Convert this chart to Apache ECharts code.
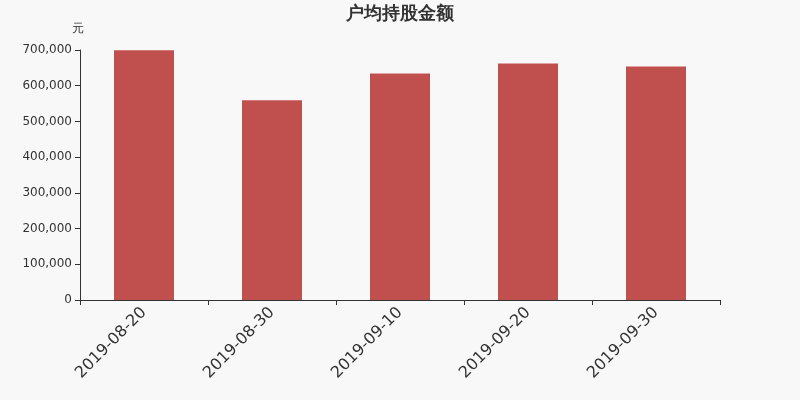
<!DOCTYPE html>
<html><head><meta charset="utf-8">
<script src="https://cdn.jsdelivr.net/npm/echarts@6/dist/echarts.min.js"></script>
<style>html,body{margin:0;padding:0;background:#f8f8f8}#c{width:800px;height:400px}</style>
</head><body><div id="c"></div>
<script>
var categories = ['2019-08-20','2019-08-30','2019-09-10','2019-09-20','2019-09-30'];
var values = [699000, 559000, 634000, 662000, 654000];
var chart = echarts.init(document.getElementById('c'));
chart.setOption({
  backgroundColor: '#f8f8f8',
  animation: false,
  textStyle: {fontFamily: 'DejaVu Sans'},
  title: {text: '户均持股金额', left: 'center', top: 0, textStyle: {fontSize: 18, fontWeight: 'bold', color: '#333', fontFamily: 'DejaVu Sans'}},
  grid: {left: 80, right: 80, top: 50, bottom: 100},
  xAxis: {
    type: 'category', data: categories,
    axisLine: {lineStyle: {color: '#333'}},
    axisTick: {show: true, lineStyle: {color: '#333'}},
    axisLabel: {rotate: 45, fontSize: 16, color: '#333', margin: 10, fontFamily: 'DejaVu Sans'}
  },
  yAxis: {
    type: 'value', name: '元', min: 0, max: 700000, interval: 100000,
    nameTextStyle: {color: '#333', fontSize: 12, padding: [0, 5, 0, 0], fontFamily: 'DejaVu Sans'},
    axisLine: {show: true, lineStyle: {color: '#333'}},
    axisTick: {show: true, lineStyle: {color: '#333'}},
    splitLine: {show: false},
    axisLabel: {color: '#333', fontSize: 12, fontFamily: 'DejaVu Sans', formatter: function(v){return v.toLocaleString('en-US');}}
  },
  series: [{type: 'bar', data: values, barWidth: 60, itemStyle: {color: '#c0504e'}}]
});
</script></body></html>
